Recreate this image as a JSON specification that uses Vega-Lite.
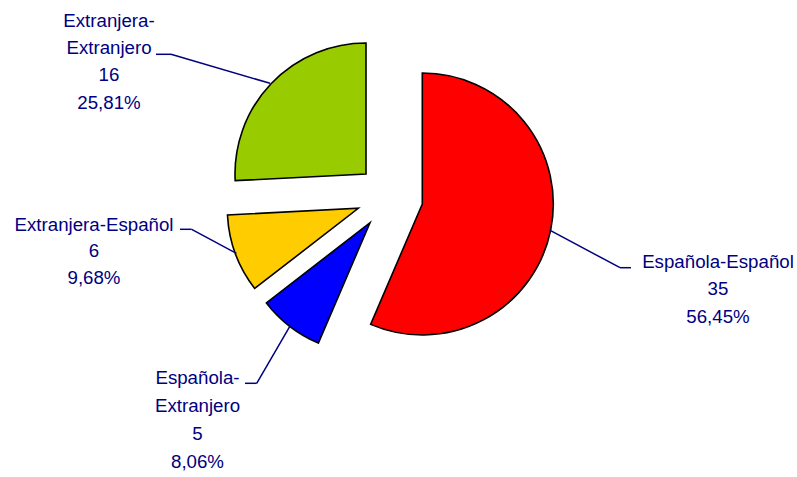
{
  "$schema": "https://vega.github.io/schema/vega-lite/v6.json",
  "width": 781,
  "height": 394,
  "autosize": {"type": "none"},
  "padding": {"left": 0, "top": 0, "right": 16, "bottom": 83},
  "background": "white",
  "config": {"view": {"stroke": null}},
  "data": {"values": [
    {"cat": "Española-Español", "n": 35, "pct": 0.5645, "order": 1},
    {"cat": "Española-Extranjero", "n": 5, "pct": 0.0806, "order": 2},
    {"cat": "Extranjera-Español", "n": 6, "pct": 0.0968, "order": 3},
    {"cat": "Extranjera-Extranjero", "n": 16, "pct": 0.2581, "order": 4}
  ]},
  "transform": [
    {"stack": "n", "groupby": [], "sort": [{"field": "order", "order": "ascending"}], "as": ["t0", "t1"]}
  ],
  "layer": [
    {"transform": [{"filter": {"field": "cat", "equal": "Española-Español"}}],
     "mark": {"type": "arc", "outerRadius": 131, "stroke": "black", "strokeWidth": 1.6, "xOffset": 31.8, "yOffset": 7},
     "encoding": {
       "theta": {"field": "t1", "type": "quantitative", "stack": null},
       "theta2": {"field": "t0"},
       "color": {"field": "cat", "type": "nominal", "legend": null,
         "scale": {"domain": ["Española-Español", "Española-Extranjero", "Extranjera-Español", "Extranjera-Extranjero"],
                   "range": ["#FF0000", "#0000FF", "#FFCC00", "#99CC00"]}}}},
    {"transform": [{"filter": {"field": "cat", "equal": "Española-Extranjero"}}],
     "mark": {"type": "arc", "outerRadius": 131, "stroke": "black", "strokeWidth": 1.6, "xOffset": -20.5, "yOffset": 25.7},
     "encoding": {
       "theta": {"field": "t1", "type": "quantitative", "stack": null},
       "theta2": {"field": "t0"},
       "color": {"field": "cat", "type": "nominal", "legend": null}}},
    {"transform": [{"filter": {"field": "cat", "equal": "Extranjera-Español"}}],
     "mark": {"type": "arc", "outerRadius": 131, "stroke": "black", "strokeWidth": 1.6, "xOffset": -32.2, "yOffset": 11.3},
     "encoding": {
       "theta": {"field": "t1", "type": "quantitative", "stack": null},
       "theta2": {"field": "t0"},
       "color": {"field": "cat", "type": "nominal", "legend": null}}},
    {"transform": [{"filter": {"field": "cat", "equal": "Extranjera-Extranjero"}}],
     "mark": {"type": "arc", "outerRadius": 131, "stroke": "black", "strokeWidth": 1.6, "xOffset": -24.5, "yOffset": -23},
     "encoding": {
       "theta": {"field": "t1", "type": "quantitative", "stack": null},
       "theta2": {"field": "t0"},
       "color": {"field": "cat", "type": "nominal", "legend": null}}},

    {"transform": [{"filter": {"field": "cat", "equal": "Española-Español"}}],
     "mark": {"type": "rule", "stroke": "#000080", "strokeWidth": 1.5},
     "encoding": {"x": {"value": 549.7}, "y": {"value": 230.1}, "x2": {"value": 620}, "y2": {"value": 267.7}}},
    {"transform": [{"filter": {"field": "cat", "equal": "Española-Español"}}],
     "mark": {"type": "rule", "stroke": "#000080", "strokeWidth": 1.5},
     "encoding": {"x": {"value": 620}, "y": {"value": 267.7}, "x2": {"value": 631}, "y2": {"value": 267.7}}},
    {"transform": [{"filter": {"field": "cat", "equal": "Española-Extranjero"}}],
     "mark": {"type": "rule", "stroke": "#000080", "strokeWidth": 1.5},
     "encoding": {"x": {"value": 290.4}, "y": {"value": 325.4}, "x2": {"value": 256.7}, "y2": {"value": 383.3}}},
    {"transform": [{"filter": {"field": "cat", "equal": "Española-Extranjero"}}],
     "mark": {"type": "rule", "stroke": "#000080", "strokeWidth": 1.5},
     "encoding": {"x": {"value": 256.7}, "y": {"value": 383.3}, "x2": {"value": 245}, "y2": {"value": 383.3}}},
    {"transform": [{"filter": {"field": "cat", "equal": "Extranjera-Español"}}],
     "mark": {"type": "rule", "stroke": "#000080", "strokeWidth": 1.5},
     "encoding": {"x": {"value": 236.4}, "y": {"value": 253.4}, "x2": {"value": 191.7}, "y2": {"value": 229.3}}},
    {"transform": [{"filter": {"field": "cat", "equal": "Extranjera-Español"}}],
     "mark": {"type": "rule", "stroke": "#000080", "strokeWidth": 1.5},
     "encoding": {"x": {"value": 191.7}, "y": {"value": 229.3}, "x2": {"value": 180}, "y2": {"value": 229.3}}},
    {"transform": [{"filter": {"field": "cat", "equal": "Extranjera-Extranjero"}}],
     "mark": {"type": "rule", "stroke": "#000080", "strokeWidth": 1.5},
     "encoding": {"x": {"value": 270}, "y": {"value": 83.3}, "x2": {"value": 171}, "y2": {"value": 54.3}}},
    {"transform": [{"filter": {"field": "cat", "equal": "Extranjera-Extranjero"}}],
     "mark": {"type": "rule", "stroke": "#000080", "strokeWidth": 1.5},
     "encoding": {"x": {"value": 171}, "y": {"value": 54.3}, "x2": {"value": 156}, "y2": {"value": 54.3}}},

    {"transform": [{"filter": {"field": "cat", "equal": "Española-Español"}}],
     "mark": {"type": "text", "dx": 327.5, "dy": 64.7, "align": "center", "baseline": "middle", "lineBreak": "\n", "lineHeight": 27.5,
              "font": "Liberation Sans, Arial", "fontSize": 18.7, "fill": "#000080"},
     "encoding": {
       "text": {"value": {"expr": "datum.cat + '\\n' + datum.n + '\\n' + replace(format(datum.pct, '.2%'), '.', ',')"}}}},
    {"transform": [{"filter": {"field": "cat", "equal": "Española-Extranjero"}}],
     "mark": {"type": "text", "dx": -193, "dy": 180.5, "align": "center", "baseline": "middle", "lineBreak": "\n", "lineHeight": 28.2,
              "font": "Liberation Sans, Arial", "fontSize": 18.7, "fill": "#000080"},
     "encoding": {
       "text": {"value": {"expr": "replace(datum.cat, '-', '-\\n') + '\\n' + datum.n + '\\n' + replace(format(datum.pct, '.2%'), '.', ',')"}}}},
    {"transform": [{"filter": {"field": "cat", "equal": "Extranjera-Español"}}],
     "mark": {"type": "text", "dx": -296.5, "dy": 27.5, "align": "center", "baseline": "middle", "lineBreak": "\n", "lineHeight": 26.5,
              "font": "Liberation Sans, Arial", "fontSize": 18.7, "fill": "#000080"},
     "encoding": {
       "text": {"value": {"expr": "datum.cat + '\\n' + datum.n + '\\n' + replace(format(datum.pct, '.2%'), '.', ',')"}}}},
    {"transform": [{"filter": {"field": "cat", "equal": "Extranjera-Extranjero"}}],
     "mark": {"type": "text", "dx": -281.5, "dy": -176.3, "align": "center", "baseline": "middle", "lineBreak": "\n", "lineHeight": 27.3,
              "font": "Liberation Sans, Arial", "fontSize": 18.7, "fill": "#000080"},
     "encoding": {
       "text": {"value": {"expr": "replace(datum.cat, '-', '-\\n') + '\\n' + datum.n + '\\n' + replace(format(datum.pct, '.2%'), '.', ',')"}}}}
  ]
}
